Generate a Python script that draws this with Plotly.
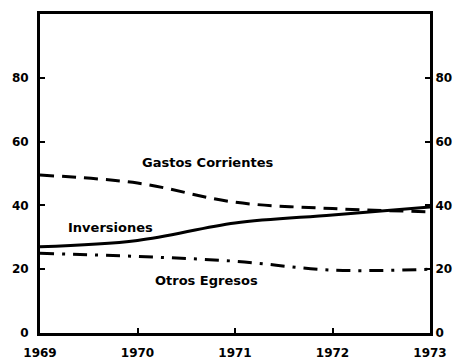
import plotly.graph_objects as go

years = [1969, 1970, 1971, 1972, 1973]
gastos_corrientes = [49.5, 47, 41, 39, 38]
inversiones = [27, 29, 34.5, 37, 39.5]
otros_egresos = [25, 24, 22.5, 19.7, 20]

y_ticks = [0, 20, 40, 60, 80]
x_tick_labels = ["1969", "1970", "1971", "1972", "1973"]

FONT = dict(family="DejaVu Sans", size=12, color="black")

fig = go.Figure()
fig.add_trace(go.Scatter(x=years, y=gastos_corrientes, mode="lines",
                         line=dict(color="black", width=3, dash="14px,8px"),
                         line_shape="spline", name="Gastos Corrientes"))
fig.add_trace(go.Scatter(x=years, y=inversiones, mode="lines",
                         line=dict(color="black", width=3),
                         line_shape="spline", name="Inversiones"))
fig.add_trace(go.Scatter(x=years, y=otros_egresos, mode="lines",
                         line=dict(color="black", width=3, dash="14px,8px,3px,8px"),
                         line_shape="spline", name="Otros Egresos"))
# invisible trace bound to the right-hand axis
fig.add_trace(go.Scatter(x=years, y=inversiones, yaxis="y2", mode="lines",
                         line=dict(width=0), opacity=0, hoverinfo="skip", showlegend=False))

labels = [("Gastos Corrientes", 1970.72, 53.3),
          ("Inversiones", 1969.72, 33.2),
          ("Otros Egresos", 1970.71, 16.6)]
for text, x, y in labels:
    fig.add_annotation(x=x, y=y, text="<b>%s</b>" % text, showarrow=False,
                       font=dict(family="DejaVu Sans", size=13, color="black"))

axis_common = dict(showgrid=False, zeroline=False, showline=True, linecolor="black",
                   linewidth=3, ticks="inside", ticklen=5, tickwidth=2, tickcolor="black",
                   tickfont=FONT, automargin=False)

fig.update_layout(
    width=457, height=359,
    margin=dict(l=40, r=27, t=14, b=26),
    paper_bgcolor="white", plot_bgcolor="white",
    showlegend=False,
    xaxis=dict(range=[1969, 1973], tickvals=years,
               ticktext=["<b>%s</b>" % t for t in x_tick_labels],
               ticklabelstandoff=7, mirror=True, **axis_common),
    yaxis=dict(range=[0, 100], tickvals=y_ticks, ticklabelstandoff=6,
               ticktext=["<b>%d</b>" % v for v in y_ticks], **axis_common),
    yaxis2=dict(range=[0, 100], tickvals=y_ticks, overlaying="y", side="right",
                ticktext=["<b>%d</b>" % v for v in y_ticks], **axis_common),
)

fig.write_html("out.html")
